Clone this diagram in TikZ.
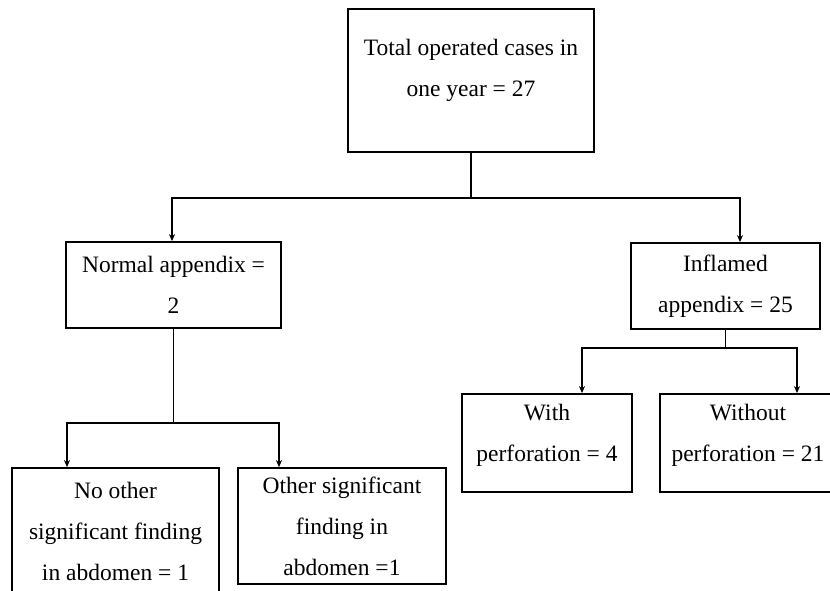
\documentclass[tikz,border=0pt]{standalone}
\usepackage{fontspec}
\setmainfont{Liberation Serif}
\usetikzlibrary{arrows.meta, positioning}
\tikzset{flowbox/.style={draw=black, line width=1.8pt, align=center, inner sep=0pt, font=\fontsize{23.5}{41}\selectfont},
flowline/.style={draw=black, line width=1.6pt},
flowarrow/.style={draw=black, line width=1.6pt, -{Stealth[length=7pt, width=6pt]}}}

\begin{document}
\begin{tikzpicture}[x=1pt, y=-1pt, line join=miter]
                \useasboundingbox (0, 0) rectangle (830, 591);

                % Boxes
                \node[flowbox, minimum width=246pt, minimum height=143pt, text depth=25pt] (total) at (471, 80.5) {Total operated cases in\\one year = 27};
                \node[flowbox, minimum width=215pt, minimum height=86pt] (normal) at (173.5, 285) {Normal appendix =\\2};
                \node[flowbox, minimum width=189pt, minimum height=86pt] (inflamed) at (725.5, 286) {Inflamed\\appendix = 25};
                \node[flowbox, minimum width=170pt, minimum height=98pt, text depth=21pt] (withperf) at (547, 443) {With\\perforation = 4};
                \node[flowbox, minimum width=176pt, minimum height=98pt, text depth=21pt] (withoutperf) at (748, 443) {Without\\perforation = 21};
                \node[flowbox, minimum width=207pt, minimum height=126pt] (nofinding) at (115.5, 531) {No other\\significant finding\\in abdomen = 1};
                \node[flowbox, minimum width=208pt, minimum height=116pt] (finding) at (342, 526) {Other significant\\finding in\\abdomen =1};

                % Connectors
                \coordinate (split1) at ([yshift=-45pt]total.south);
                \draw[flowline] (total.south) -- (split1);
                \draw[flowarrow] (split1) -| ([xshift=-1.5pt]normal.north);
                \draw[flowarrow] (split1) -| ([xshift=14.5pt]inflamed.north);

                \coordinate (split2) at ([yshift=-94pt]normal.south);
                \draw[flowline] (normal.south) -- (split2);
                \draw[flowarrow] (split2) -| ([xshift=-48.5pt]nofinding.north);
                \draw[flowarrow] (split2) -| ([xshift=-63pt]finding.north);

                \coordinate (split3) at ([yshift=-18pt]inflamed.south);
                \draw[flowline] (inflamed.south) -- (split3);
                \draw[flowarrow] (split3) -| ([xshift=35pt]withperf.north);
                \draw[flowarrow] (split3) -| ([xshift=49pt]withoutperf.north);
            \end{tikzpicture}
\end{document}
